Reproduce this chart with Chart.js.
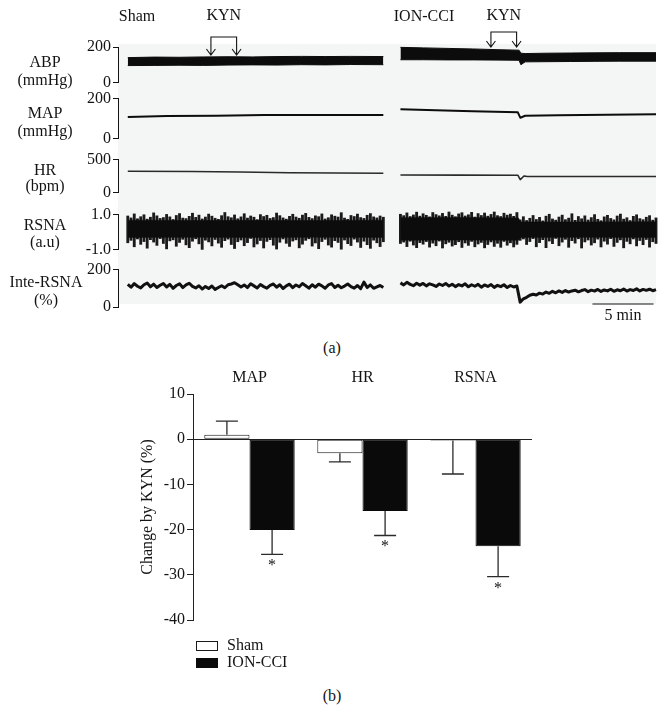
<!DOCTYPE html>
<html><head><meta charset="utf-8">
<script src="https://cdn.jsdelivr.net/npm/chart.js@4.4.1/dist/chart.umd.min.js"></script>
<style>
html,body{margin:0;padding:0;background:#fff;}
#stage{position:relative;width:666px;height:728px;overflow:hidden;font-family:'Liberation Serif','Times New Roman',serif;color:#141414;}
.lbl{position:absolute;font-size:16px;line-height:18px;white-space:nowrap;text-align:center;}
canvas{position:absolute;left:0;}
#bg{position:absolute;left:118px;top:44px;width:538px;height:260px;background:#f4f5f5;}
</style></head><body><div id="stage"><div id="bg"></div></div>
<script>
// ================= DATA =================
// ---- Panel (a): recordings, time axis in minutes ----
const timeRange = [0, 44];
const shamStart = 0.8, shamEnd = 21.7, cciStart = 23.1, cciEnd = 44.0;
const kynShamTimes = [7.6, 9.7];
const kynCciTimes = [30.5, 32.6];
const scaleBarStart = 38.8, scaleBarMinutes = 5;

// ABP (mmHg) band envelopes
const abpShamT  = [0.8, 3, 5, 7, 9, 11, 13, 15, 17, 19, 21.7];
const abpShamHi = [140, 143, 142, 144, 145, 144, 146, 147, 146, 147, 146];
const abpShamLo = [95, 96, 97, 96, 98, 99, 98, 100, 99, 101, 100];
const abpCciT   = [23.1, 25, 27, 29, 31, 32.8, 32.95, 33.3, 35, 37, 39, 41, 44];
const abpCciHi  = [198, 195, 192, 189, 185, 182, 165, 163, 165, 166, 167, 168, 168];
const abpCciLo  = [128, 128, 127, 127, 126, 125, 100, 116, 117, 118, 119, 120, 120];

// MAP (mmHg)
const mapShamT = [0.8, 4, 8, 12, 16, 21.7];
const mapSham  = [108, 112, 114, 117, 118, 117];
const mapCciT  = [23.1, 26, 29, 32.7, 32.9, 33.3, 36, 40, 44];
const mapCci   = [146, 141, 136, 131, 104, 114, 116, 119, 121];

// HR (bpm)
const hrShamT = [0.8, 6, 10, 14, 21.7];
const hrSham  = [322, 318, 310, 300, 292];
const hrCciT  = [23.1, 28, 32.7, 32.9, 33.2, 33.4, 38, 44];
const hrCci   = [265, 264, 262, 195, 250, 245, 243, 242];

// RSNA (a.u): dense body envelope
const rsnaBodyShamT  = [0.8, 6, 11, 16, 21.7];
const rsnaBodyShamHi = [0.68, 0.66, 0.67, 0.66, 0.68];
const rsnaBodyShamLo = [-0.31, -0.30, -0.32, -0.30, -0.31];
const rsnaBodyCciT   = [23.1, 28, 32.75, 32.9, 38, 44];
const rsnaBodyCciHi  = [0.82, 0.83, 0.81, 0.58, 0.58, 0.59];
const rsnaBodyCciLo  = [-0.47, -0.46, -0.47, -0.31, -0.30, -0.31];
// RSNA (a.u): burst extremes, 80 samples per recording
const rsnaShamHi = [0.92,0.81,1.04,0.76,0.88,0.99,0.74,0.85,1.10,0.93,0.78,0.83,1.01,0.87,0.72,0.95,1.06,0.80,0.77,0.90,1.08,0.84,0.97,0.75,0.86,1.03,0.91,0.79,0.73,0.94,1.12,0.88,0.82,0.98,0.76,0.87,1.05,0.80,0.92,0.85,0.71,1.00,0.89,0.96,0.78,0.83,1.09,0.94,0.81,0.74,0.90,1.02,0.86,0.79,0.97,1.07,0.84,0.77,0.93,0.88,1.04,0.75,0.82,0.99,0.91,0.86,1.11,0.80,0.73,0.95,0.89,1.03,0.83,0.78,0.96,1.06,0.87,0.81,0.92,0.85];
const rsnaShamLo = [-0.62,-0.48,-0.85,-0.40,-0.71,-0.55,-0.93,-0.44,-0.58,-0.77,-0.38,-0.66,-0.97,-0.51,-0.45,-0.82,-0.60,-0.42,-0.74,-0.90,-0.53,-0.39,-0.68,-1.00,-0.47,-0.57,-0.80,-0.43,-0.64,-0.88,-0.50,-0.41,-0.72,-0.95,-0.56,-0.46,-0.79,-0.61,-0.37,-0.86,-0.69,-0.49,-0.92,-0.54,-0.44,-0.76,-0.98,-0.59,-0.40,-0.65,-0.83,-0.52,-0.45,-0.91,-0.70,-0.48,-0.39,-0.81,-0.63,-0.96,-0.55,-0.42,-0.75,-0.87,-0.50,-0.60,-0.99,-0.46,-0.67,-0.78,-0.41,-0.58,-0.89,-0.53,-0.73,-0.94,-0.47,-0.62,-0.84,-0.56];
const rsnaCciHi = [1.02,0.94,1.10,0.89,0.98,1.14,0.91,1.05,0.96,0.87,1.12,1.00,0.93,1.07,0.90,1.15,0.97,0.88,1.04,1.11,0.92,0.99,1.13,0.86,1.06,0.95,1.09,0.91,1.01,1.15,0.94,0.89,1.08,0.97,1.03,0.90,1.12,
  0.70,0.88,0.66,0.79,0.95,0.72,0.84,0.64,0.91,1.02,0.75,0.68,0.86,0.97,0.71,0.80,1.05,0.67,0.89,0.76,0.93,0.69,0.83,1.00,0.73,0.65,0.87,0.96,0.78,0.70,0.92,1.03,0.74,0.82,0.66,0.90,0.99,0.77,0.71,0.85,0.94,0.68,0.81];
const rsnaCciLo = [-0.66,-0.58,-0.84,-0.53,-0.75,-0.90,-0.61,-0.70,-0.55,-0.87,-0.64,-0.79,-0.52,-0.92,-0.68,-0.59,-0.81,-0.73,-0.56,-0.89,-0.63,-0.77,-0.54,-0.85,-0.69,-0.60,-0.91,-0.72,-0.57,-0.83,-0.65,-0.88,-0.54,-0.76,-0.62,-0.86,-0.71,
  -0.48,-0.40,-0.72,-0.55,-0.38,-0.85,-0.61,-0.44,-0.90,-0.52,-0.67,-0.37,-0.79,-0.58,-0.42,-0.88,-0.50,-0.64,-0.39,-0.92,-0.57,-0.46,-0.75,-0.62,-0.41,-0.86,-0.53,-0.70,-0.38,-0.83,-0.60,-0.45,-0.91,-0.54,-0.68,-0.40,-0.80,-0.49,-0.73,-0.43,-0.87,-0.56,-0.66];

// Integrated RSNA (%), 80 samples per recording
const inteSham = [121,106,125,111,102,119,128,108,122,104,116,126,107,121,100,115,124,104,118,127,110,102,114,96,110,99,112,94,104,114,103,119,123,130,119,107,118,104,124,113,102,120,109,101,116,123,106,119,99,113,122,103,118,108,126,114,101,119,106,122,113,100,118,125,104,116,103,112,123,109,101,115,98,133,104,118,100,108,115,104];
const inteCci = [129,118,132,121,114,127,117,126,113,124,118,110,123,115,126,112,122,109,120,113,124,108,119,111,121,106,118,110,120,105,116,109,119,104,115,107,112,
  26,44,52,63,68,64,74,69,80,73,84,76,86,78,88,80,86,90,81,88,93,82,90,85,94,83,91,86,95,84,92,87,96,85,93,88,97,86,94,89,95,87,93];

// ---- Panel (b): change by KYN (%) ----
const categories = ['MAP', 'HR', 'RSNA'];
const shamMean = [1.0, -3.1, -0.3];
const shamErr  = [3.0, 1.9, 7.4];
const cciMean  = [-20.1, -15.9, -23.7];
const cciErr   = [5.4, 5.4, 6.7];
const significant = [true, true, true];
const groupNames = ['Sham', 'ION-CCI'];

// ================= DRAWING =================
const FONT = "'Liberation Serif','Times New Roman',serif";
const INK = '#141414';
const stage = document.getElementById('stage');

function addLabel(text, cx, cy, w) {
  w = w || 120;
  const d = document.createElement('div');
  d.className = 'lbl';
  d.textContent = text;
  d.style.left = (cx - w / 2) + 'px';
  d.style.top = (cy - 9) + 'px';
  d.style.width = w + 'px';
  stage.appendChild(d);
}
function makeCanvas(top, height) {
  const c = document.createElement('canvas');
  c.width = 666; c.height = height;
  c.style.top = top + 'px';
  c.style.width = '666px'; c.style.height = height + 'px';
  stage.appendChild(c);
  return c;
}
function evenTimes(a, b, n) { const o = []; for (let i = 0; i < n; i++) o.push(a + (b - a) * i / (n - 1)); return o; }
function pts(ts, vs) { return ts.map((t, i) => ({x: t, y: vs[i]})); }
function band(ts, hi, lo, color, lw) {
  return [
    {data: pts(ts, hi), borderColor: color, borderWidth: lw, fill: false, clip: false},
    {data: pts(ts, lo), borderColor: color, borderWidth: lw, backgroundColor: color, fill: '-1', clip: false}
  ];
}
function bursts(ts, hi, lo, color) {
  return {type: 'bar', data: ts.map((t, i) => ({x: t, y: [lo[i], hi[i]]})),
          backgroundColor: color, borderWidth: 0, barThickness: 2.2, grouped: false, clip: false};
}
function trace(ts, vs, color, lw) {
  return {data: pts(ts, vs), borderColor: color, borderWidth: lw, fill: false, clip: false};
}

function rowChart(cfg) {
  const h = cfg.bottom - cfg.top + cfg.padTop + cfg.padBottom;
  const canvas = makeCanvas(cfg.top - cfg.padTop, h);
  return new Chart(canvas, {
    type: 'line',
    data: {datasets: cfg.datasets},
    options: {
      responsive: false, animation: false, devicePixelRatio: 1, events: [],
      layout: {padding: {top: cfg.padTop, bottom: cfg.padBottom, left: 0, right: 10}},
      plugins: {legend: {display: false}, tooltip: {enabled: false}},
      elements: {point: {radius: 0}, line: {tension: 0, borderJoinStyle: 'round'}},
      scales: {
        x: {type: 'linear', min: timeRange[0], max: timeRange[1], display: false, offset: false},
        y: {
          type: 'linear', min: cfg.min, max: cfg.max,
          afterFit: s => { s.width = 118; },
          afterBuildTicks: s => { s.ticks = [{value: cfg.min}, {value: cfg.max}]; },
          ticks: {font: {family: FONT, size: 16}, color: INK, padding: 2,
                  callback: cfg.fmt || (v => String(v))},
          grid: {drawOnChartArea: false, tickLength: 5, color: INK, lineWidth: 1},
          border: {color: INK, width: 1}
        }
      }
    },
    plugins: cfg.plugins || []
  });
}

const shamSampleT = evenTimes(shamStart, shamEnd, rsnaShamHi.length);
const cciSampleT = evenTimes(cciStart, cciEnd, rsnaCciHi.length);

// KYN arrows plugin (ABP row)
const kynPlugin = {
  id: 'kyn',
  afterDraw(chart) {
    const x = chart.scales.x, ctx = chart.ctx;
    const groups = [{t: kynShamTimes, top: 37, tip: 55}, {t: kynCciTimes, top: 32, tip: 47}];
    ctx.save();
    ctx.strokeStyle = INK; ctx.lineWidth = 1.1; ctx.fillStyle = INK;
    groups.forEach(g => {
      const xs = g.t.map(v => x.getPixelForValue(v));
      ctx.beginPath();
      ctx.moveTo(xs[0], g.tip); ctx.lineTo(xs[0], g.top); ctx.lineTo(xs[1], g.top); ctx.lineTo(xs[1], g.tip);
      xs.forEach(px => { ctx.moveTo(px - 4.5, g.tip - 6); ctx.lineTo(px, g.tip); ctx.lineTo(px + 4.5, g.tip - 6); });
      ctx.stroke();
      ctx.font = `16px ${FONT}`; ctx.textAlign = 'center'; ctx.textBaseline = 'middle';
      ctx.fillText('KYN', (xs[0] + xs[1]) / 2, 16);
    });
    ctx.restore();
  }
};
// Scale bar plugin (Inte-RSNA row)
const scaleBarPlugin = {
  id: 'scalebar',
  afterDraw(chart) {
    const x = chart.scales.x, ctx = chart.ctx;
    const y = chart.chartArea.bottom - 3;
    const x0 = x.getPixelForValue(scaleBarStart), x1 = x.getPixelForValue(scaleBarStart + scaleBarMinutes);
    ctx.save();
    ctx.strokeStyle = INK; ctx.lineWidth = 1.2;
    ctx.beginPath(); ctx.moveTo(x0, y); ctx.lineTo(x1, y); ctx.stroke();
    ctx.fillStyle = INK; ctx.font = `16px ${FONT}`; ctx.textAlign = 'center'; ctx.textBaseline = 'middle';
    ctx.fillText(scaleBarMinutes + ' min', (x0 + x1) / 2, y + 12);
    ctx.restore();
  }
};

const BLACK = '#0c0c0c';
rowChart({top: 47, bottom: 86, padTop: 47, padBottom: 8, min: 0, max: 200,
  datasets: [...band(abpShamT, abpShamHi, abpShamLo, BLACK, 1), ...band(abpCciT, abpCciHi, abpCciLo, BLACK, 1)],
  plugins: [kynPlugin]});
rowChart({top: 97, bottom: 142, padTop: 10, padBottom: 8, min: 0, max: 200,
  datasets: [trace(mapShamT, mapSham, BLACK, 2), trace(mapCciT, mapCci, BLACK, 2)]});
rowChart({top: 158, bottom: 196, padTop: 10, padBottom: 8, min: 0, max: 500,
  datasets: [trace(hrShamT, hrSham, '#2a2a2a', 1.6), trace(hrCciT, hrCci, '#2a2a2a', 1.6)]});
rowChart({top: 212.5, bottom: 252.5, padTop: 10, padBottom: 8, min: -1, max: 1,
  fmt: v => v.toFixed(1),
  datasets: [...band(rsnaBodyShamT, rsnaBodyShamHi, rsnaBodyShamLo, '#0c0c0c', 0.5),
             ...band(rsnaBodyCciT, rsnaBodyCciHi, rsnaBodyCciLo, '#0c0c0c', 0.5),
             bursts(shamSampleT, rsnaShamHi, rsnaShamLo, '#1a1a1a'),
             bursts(cciSampleT, rsnaCciHi, rsnaCciLo, '#1a1a1a')]});
rowChart({top: 268, bottom: 307, padTop: 10, padBottom: 24, min: 0, max: 200,
  datasets: [trace(shamSampleT, inteSham, '#111', 3), trace(cciSampleT, inteCci, '#111', 3)],
  plugins: [scaleBarPlugin]});

// Row labels and headers
addLabel('Sham', 137, 16);
addLabel('ION-CCI', 424, 16);
addLabel('ABP', 45, 62); addLabel('(mmHg)', 45, 80);
addLabel('MAP', 45, 113); addLabel('(mmHg)', 45, 131);
addLabel('HR', 45, 170); addLabel('(bpm)', 45, 186);
addLabel('RSNA', 45, 225); addLabel('(a.u)', 45, 242);
addLabel('Inte-RSNA', 46, 282); addLabel('(%)', 46, 300);
addLabel('(a)', 332, 348);
addLabel('(b)', 332, 696);

// ---- Panel (b) ----
const BAR_TOP = 340; // canvas top on the page
const barDeco = {
  id: 'barDeco',
  afterDatasetsDraw(chart) {
    const ctx = chart.ctx, y = chart.scales.y, x = chart.scales.x;
    ctx.save();
    const errs = [shamErr, cciErr];
    chart.data.datasets.forEach((ds, d) => {
      const meta = chart.getDatasetMeta(d);
      meta.data.forEach((el, i) => {
        const m = ds.data[i], e = errs[d][i];
        const dir = m >= 0 ? 1 : -1;
        const y0 = y.getPixelForValue(m), y1 = y.getPixelForValue(m + dir * e);
        ctx.strokeStyle = '#2b2b2b'; ctx.lineWidth = 1.3;
        ctx.beginPath();
        ctx.moveTo(el.x, y0); ctx.lineTo(el.x, y1);
        ctx.moveTo(el.x - 11, y1); ctx.lineTo(el.x + 11, y1);
        ctx.stroke();
        if (d === 1 && significant[i]) {
          ctx.fillStyle = INK; ctx.font = `16px ${FONT}`;
          ctx.textAlign = 'center'; ctx.textBaseline = 'alphabetic';
          ctx.fillText('*', el.x, y1 + 16);
        }
      });
    });
    ctx.fillStyle = INK; ctx.font = `16px ${FONT}`; ctx.textAlign = 'center'; ctx.textBaseline = 'middle';
    chart.data.labels.forEach((lab, i) => ctx.fillText(lab, x.getPixelForValue(i), 378 - BAR_TOP));
    chart.data.datasets.forEach((ds, d) => {
      const ty = 646 - BAR_TOP + 17 * d;
      ctx.fillStyle = ds.backgroundColor; ctx.fillRect(196.5, ty - 4.5, 21, 9);
      ctx.strokeStyle = ds.borderColor; ctx.lineWidth = 1; ctx.strokeRect(196.5, ty - 4.5, 21, 9);
      ctx.fillStyle = INK; ctx.textAlign = 'left';
      ctx.fillText(ds.label, 227, ty);
    });
    ctx.restore();
  }
};
const barCanvas = makeCanvas(BAR_TOP, 388);
new Chart(barCanvas, {
  type: 'bar',
  data: {
    labels: categories,
    datasets: [
      {label: groupNames[0], data: shamMean, backgroundColor: '#ffffff', borderColor: '#1a1a1a', borderWidth: 1, borderSkipped: false},
      {label: groupNames[1], data: cciMean, backgroundColor: '#0a0a0a', borderColor: '#0a0a0a', borderWidth: 1, borderSkipped: false}
    ]
  },
  options: {
    responsive: false, animation: false, devicePixelRatio: 1, events: [],
    categoryPercentage: 0.8, barPercentage: 1.0,
    layout: {padding: {top: 54, bottom: 108, left: 138, right: 134}},
    plugins: {legend: {display: false}, tooltip: {enabled: false}},
    scales: {
      x: {display: false},
      y: {
        min: -40, max: 10,
        afterFit: s => { s.width = 55; },
        ticks: {stepSize: 10, font: {family: FONT, size: 16}, color: INK, padding: 2},
        grid: {color: c => (c.tick && c.tick.value === 0) ? '#222' : 'rgba(0,0,0,0)', tickColor: '#222', tickLength: 6, lineWidth: 1},
        border: {color: '#222', width: 1},
        title: {display: true, text: 'Change by KYN (%)', font: {family: FONT, size: 16}, color: INK, padding: {top: 0, bottom: 0}}
      }
    }
  },
  plugins: [barDeco]
});
</script></body></html>
